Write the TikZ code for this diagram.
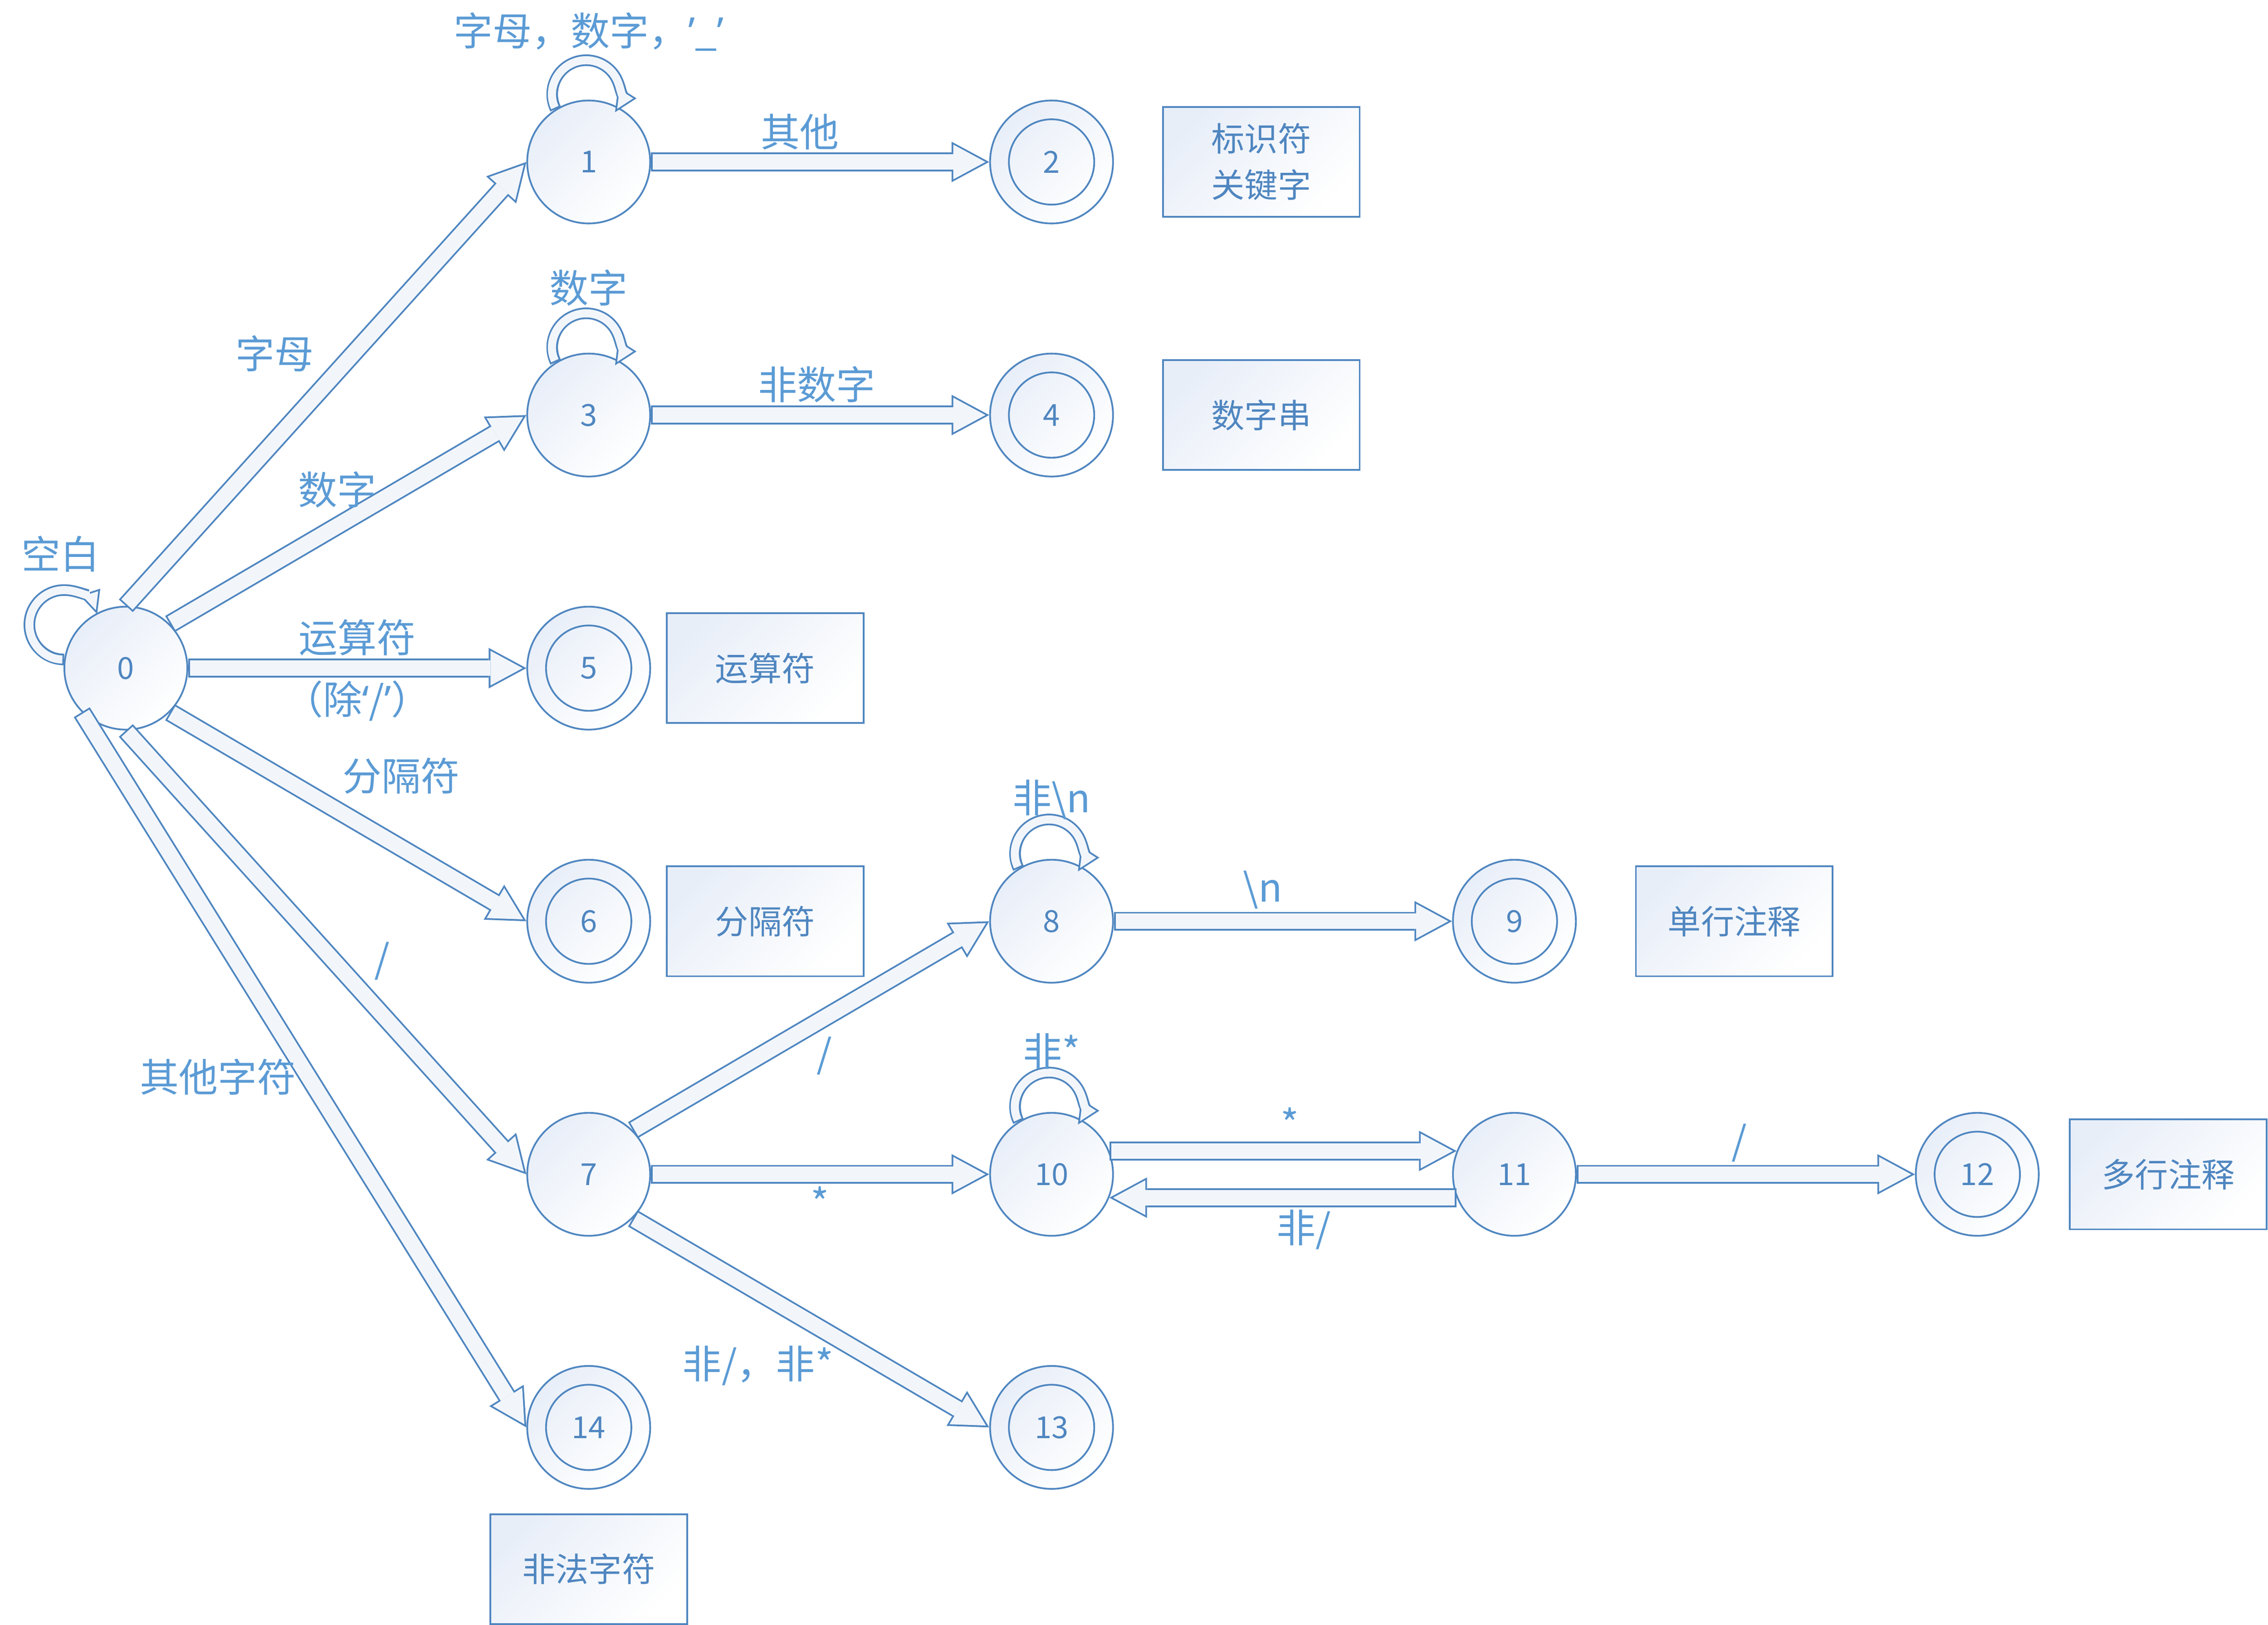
\documentclass[tikz,border=0pt]{standalone}
\usepackage{fontspec}
\setmainfont{Noto Sans CJK SC}
\newfontfamily\latinfont{Noto Sans}
\usepackage{tikz}
\usetikzlibrary{arrows.meta, positioning, calc}

\definecolor{lineblue}{RGB}{79,134,192}
\definecolor{textblue}{RGB}{91,155,213}
\definecolor{paleblue}{RGB}{232,238,248}
\definecolor{arrowfill}{RGB}{242,246,251}

\begin{document}
\begin{tikzpicture}[
            on grid,
            node distance=87.5pt and 160pt,
            state/.style={circle, draw=lineblue, line width=0.6pt, minimum size=42.5pt, inner sep=0pt, top color=paleblue, bottom color=white, shading angle=45, text=lineblue, font=\fontsize{10.5}{12}\selectfont},
            accept/.style={state, path picture={\draw[lineblue, line width=0.6pt] (path picture bounding box.center) circle[radius=14.75pt];}},
            box/.style={rectangle, draw=lineblue, line width=0.6pt, minimum width=68pt, minimum height=38pt, align=center, top color=paleblue, bottom color=white, shading angle=45, text=lineblue, font=\fontsize{11.5}{16}\selectfont},
            lbl/.style={text=textblue, inner sep=1pt, font=\fontsize{13.5}{16}\selectfont},
            flow/.style={draw=lineblue, line width=6.5pt, -{Triangle[length=13pt, width=14pt, line width=0pt]},
                postaction={draw=arrowfill, line width=5.3pt, shorten <=0.6pt, shorten >=1.3pt, -{Triangle[length=11.1pt, width=12pt, line width=0pt]}}},
            loopflow/.style={draw=lineblue, line width=4pt, -{Triangle[length=8pt, width=7.5pt, line width=0pt]},
                postaction={draw=arrowfill, line width=2.8pt, shorten <=0.6pt, shorten >=1.4pt, -{Triangle[length=6pt, width=5.6pt, line width=0pt]}}}
        ]

        \useasboundingbox (-43.5pt,-330.75pt) rectangle (740.5pt,231pt);

        \node[state] (n0) {0};
        \node[accept, right=of n0] (n5) {5};
        \node[state, above=of n5] (n3) {3};
        \node[state, above=of n3] (n1) {1};
        \node[accept, right=of n1] (n2) {2};
        \node[accept, right=of n3] (n4) {4};
        \node[accept, below=of n5] (n6) {6};
        \node[state, below=of n6] (n7) {7};
        \node[accept, below=of n7] (n14) {14};
        \node[state, right=of n6] (n8) {8};
        \node[state, right=of n7] (n10) {10};
        \node[accept, right=of n14] (n13) {13};
        \node[accept, right=of n8] (n9) {9};
        \node[state, right=of n10] (n11) {11};
        \node[accept, right=of n11] (n12) {12};

        \node[box, right=72.5pt of n2] (idbox) {标识符\\关键字};
        \node[box, right=72.5pt of n4] (numbox) {数字串};
        \node[box, right=61pt of n5] (opbox) {运算符};
        \node[box, right=61pt of n6] (sepbox) {分隔符};
        \node[box, right=76pt of n9] (linebox) {单行注释};
        \node[box, right=66pt of n12] (blockbox) {多行注释};
        \node[box, below=49pt of n14] (errbox) {非法字符};

        \draw[flow] (n0.north) -- node[lbl, pos=.5, above left] {字母} (n1.west);
        \draw[flow] (n0.north east) -- node[lbl, pos=.47, above=2pt] {数字} (n3.west);
        \draw[flow] (n0.east) -- node[lbl, pos=.5, above] {运算符} node[lbl, pos=.5, below] {（除{\latinfont ‘}/{\latinfont ’}）} (n5.west);
        \draw[flow] (n0.south east) -- node[lbl, pos=.45, above right] {分隔符} (n6.west);
        \draw[flow] (n0.south) -- node[lbl, pos=.59, above right] {/} (n7.west);
        \draw[flow] (n0.south west) -- node[lbl, pos=.51, left] {其他字符} (n14.west);

        \draw[flow] (n1) -- node[lbl, pos=.44, above] {其他} (n2);
        \draw[flow] (n3) -- node[lbl, pos=.49, above] {非数字} (n4);
        \draw[flow] (n7.north east) -- node[lbl, pos=.49, below right=-1.5pt] {/} (n8.west);
        \draw[flow] (n7) -- node[lbl, pos=.5, below] {*} (n10);
        \draw[flow] (n7.south east) -- node[lbl, pos=.58, below left=-3pt] {非/，非*} (n13.west);
        \draw[flow] (n8) -- node[lbl, pos=.44, above] {\textbackslash n} (n9);
        \draw[flow] (n10.22) -- node[lbl, pos=.52, above] {*} (n11.158);
        \draw[flow] (n11.-158) -- node[lbl, pos=.44, below] {非/} (n10.-22);
        \draw[flow] (n11) -- node[lbl, pos=.48, above] {/} (n12);

        \draw[loopflow] (n0.172) arc[start angle=270, end angle=18, radius=12pt];
        \draw[loopflow] (n1.122) arc[start angle=206, end angle=-32, radius=11.75pt];
        \draw[loopflow] (n3.122) arc[start angle=206, end angle=-32, radius=11.75pt];
        \draw[loopflow] (n8.122) arc[start angle=206, end angle=-32, radius=11.75pt];
        \draw[loopflow] (n10.122) arc[start angle=206, end angle=-32, radius=11.75pt];

        \node[lbl, above left=39.5pt and 22.5pt of n0] (blank) {空白};
        \node[lbl, above=45pt of n1] (idloop) {字母，数字，{\latinfont ’}\_{\latinfont ’}};
        \node[lbl, above=44pt of n3] (numloop) {数字};
        \node[lbl, above=42pt of n8] (lineloop) {非\textbackslash n};
        \node[lbl, above=42.5pt of n10] (blockloop) {非*};

        \end{tikzpicture}
\end{document}
